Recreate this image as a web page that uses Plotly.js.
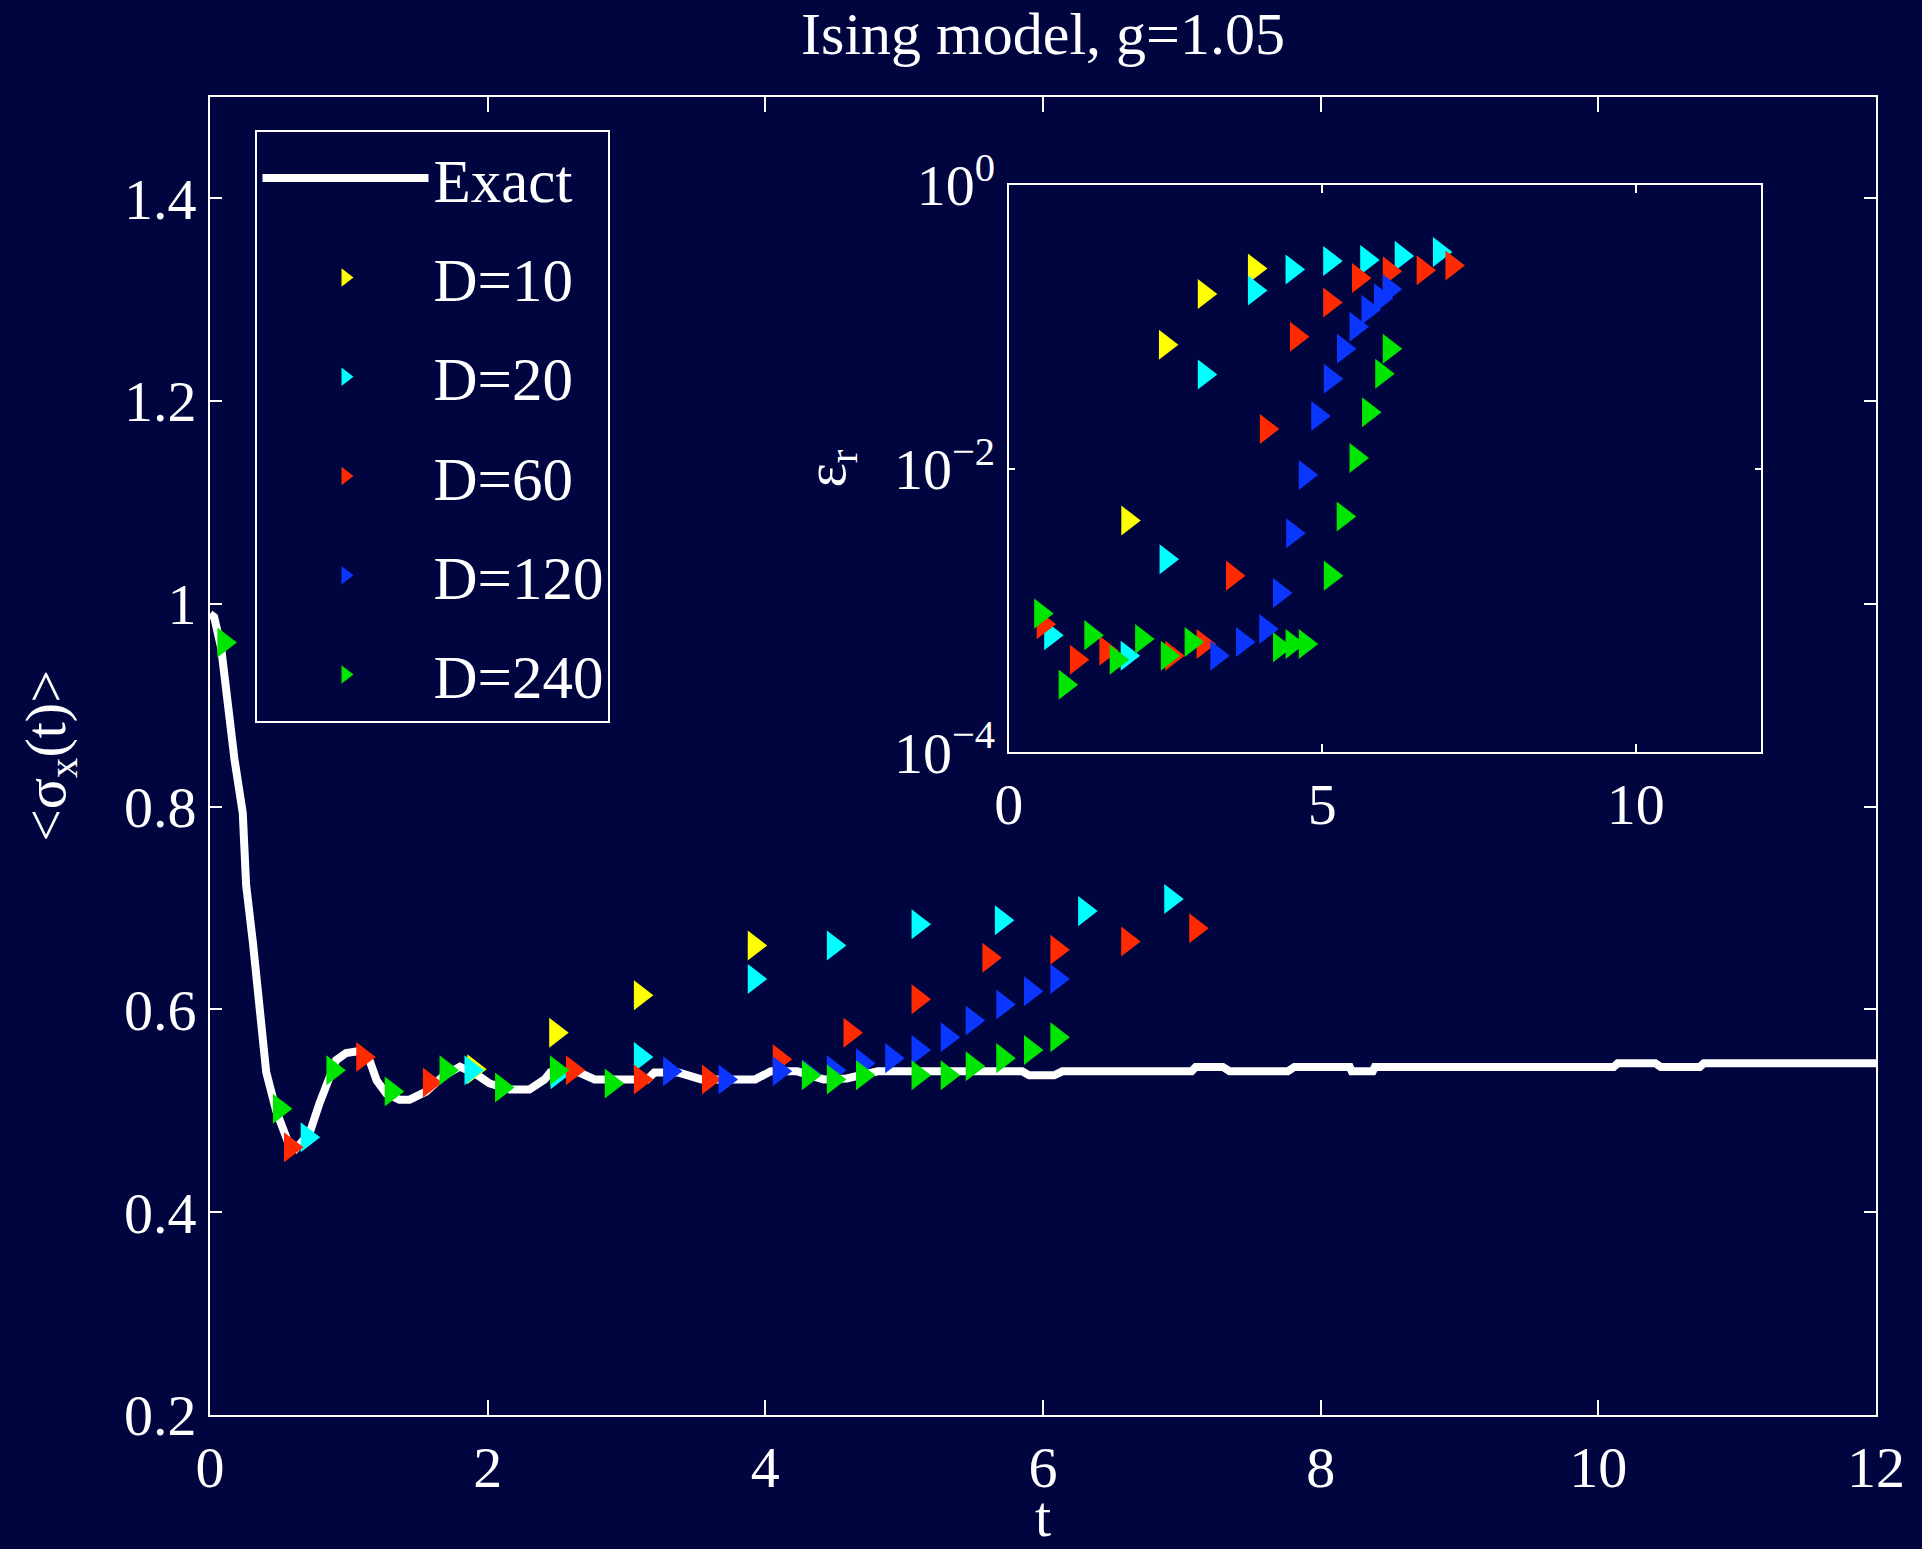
<!DOCTYPE html>
<html>
<head>
<meta charset="utf-8">
<script src="https://cdn.plot.ly/plotly-3.0.1.min.js"></script>
<style>html,body{margin:0;padding:0;background:#00043f;}</style>
</head>
<body>
<div id="chart" style="width:1922px;height:1549px;"></div>
<script>
// ---- Exact solution <sigma_x(t)> ----
const exactT = [0, 0.03, 0.08, 0.128, 0.176, 0.236, 0.26, 0.309, 0.369, 0.405, 0.477, 0.56, 0.62, 0.717, 0.79, 0.86, 0.909, 0.98, 1.077, 1.149, 1.2, 1.27, 1.365, 1.437, 1.557, 1.677, 1.80, 1.918, 2.014, 2.16, 2.30, 2.41, 2.45, 2.66, 2.77, 3.15, 3.20, 3.376, 3.54, 3.927, 4.04, 4.23, 4.42, 4.586, 4.81, 5.85, 5.90, 6.08, 6.14, 7.07, 7.10, 7.295, 7.345, 7.763, 7.811, 8.21, 8.224, 8.375, 8.39, 10.11, 10.14, 10.41, 10.45, 10.73, 10.76, 12];
const exactY = [0.99, 0.987, 0.957, 0.893, 0.847, 0.794, 0.723, 0.666, 0.591, 0.538, 0.50, 0.47, 0.463, 0.478, 0.508, 0.534, 0.55, 0.557, 0.559, 0.55, 0.53, 0.517, 0.511, 0.511, 0.519, 0.534, 0.5436, 0.536, 0.527, 0.521, 0.521, 0.531, 0.5377, 0.5377, 0.531, 0.531, 0.5377, 0.5377, 0.531, 0.531, 0.539, 0.539, 0.531, 0.532, 0.539, 0.539, 0.535, 0.535, 0.539, 0.539, 0.5433, 0.5433, 0.539, 0.539, 0.5433, 0.5433, 0.539, 0.539, 0.5433, 0.5433, 0.547, 0.547, 0.5433, 0.5433, 0.547, 0.547];

// ---- iTEBD results, main panel ----
const d10T  = [1.9, 2.49, 3.10, 3.92];
const d10Y  = [0.541, 0.577, 0.614, 0.663];
const d20T  = [0.70, 1.88, 2.50, 3.10, 3.92, 4.49, 5.10, 5.70, 6.30, 6.92];
const d20Y  = [0.474, 0.540, 0.536, 0.553, 0.630, 0.663, 0.684, 0.688, 0.697, 0.709];
const d60T  = [0.58, 1.10, 1.58, 2.61, 3.10, 3.59, 4.10, 4.61, 5.10, 5.61, 6.10, 6.61, 7.10];
const d60Y  = [0.464, 0.553, 0.528, 0.540, 0.531, 0.531, 0.551, 0.577, 0.610, 0.651, 0.659, 0.667, 0.680];
const d120T = [3.31, 3.71, 4.10, 4.31, 4.49, 4.70, 4.91, 5.10, 5.31, 5.49, 5.71, 5.91, 6.10];
const d120Y = [0.539, 0.531, 0.539, 0.536, 0.540, 0.547, 0.552, 0.560, 0.5725, 0.589, 0.605, 0.618, 0.630];
const d240T = [0.10, 0.50, 0.885, 1.305, 1.70, 2.10, 2.495, 2.89, 4.31, 4.49, 4.70, 5.10, 5.31, 5.49, 5.71, 5.91, 6.10];
const d240Y = [0.962, 0.502, 0.540, 0.519, 0.540, 0.523, 0.540, 0.527, 0.535, 0.531, 0.535, 0.535, 0.535, 0.544, 0.552, 0.560, 0.5725];

// ---- relative error eps_r, inset ----
const e10T  = [1.9, 2.5, 3.12, 3.92];
const e10   = [4.3e-3, 0.0747, 0.17, 0.257];
const e20T  = [0.67, 1.89, 2.51, 3.12, 3.92, 4.52, 5.12, 5.71, 6.26, 6.87];
const e20   = [6.7e-4, 4.8e-4, 2.3e-3, 0.046, 0.18, 0.253, 0.291, 0.296, 0.316, 0.336];
const e60T  = [0.55, 1.08, 1.55, 2.6, 3.1, 3.57, 4.11, 4.59, 5.12, 5.58, 6.07, 6.61, 7.07];
const e60   = [8e-4, 4.5e-4, 5.2e-4, 4.8e-4, 5.8e-4, 1.76e-3, 0.019, 0.085, 0.148, 0.221, 0.246, 0.25, 0.27];
const e120T = [3.32, 3.73, 4.10, 4.32, 4.53, 4.73, 4.93, 5.13, 5.34, 5.54, 5.73, 5.93, 6.07];
const e120  = [4.8e-4, 6e-4, 7.4e-4, 1.33e-3, 3.5e-3, 9.0e-3, 0.0235, 0.043, 0.070, 0.10, 0.132, 0.159, 0.184];
const e240T = [0.51, 0.9, 1.31, 1.715, 2.12, 2.53, 2.91, 4.32, 4.52, 4.73, 5.13, 5.335, 5.54, 5.74, 5.95, 6.07];
const e240  = [9.5e-4, 3.0e-4, 6.7e-4, 4.5e-4, 6.3e-4, 4.8e-4, 6e-4, 5.5e-4, 5.8e-4, 5.8e-4, 1.76e-3, 4.6e-3, 0.0119, 0.025, 0.0466, 0.070];

// ---- labels / ticks ----
const seriesNames = ['D=10', 'D=20', 'D=60', 'D=120', 'D=240'];
const xTicks = [0, 2, 4, 6, 8, 10, 12];
const yTicks = [0.2, 0.4, 0.6, 0.8, 1.0, 1.2, 1.4];
const yTickText = ['0.2', '0.4', '0.6', '0.8', '1', '1.2', '1.4'];
const insetXTicks = [0, 5, 10];
const insetYTicks = [1e-4, 1e-2, 1];
const insetYTickText = ['10<sup>\u22124</sup>', '10<sup>\u22122</sup>', '10<sup>0</sup>'];

const colors = ['#ffff00', '#00ffff', '#ff2a00', '#0a36ff', '#00e600'];
const BG = '#00043f';
const FONT = '"Liberation Serif", "Times New Roman", serif';

const mainT = [d10T, d20T, d60T, d120T, d240T];
const mainY = [d10Y, d20Y, d60Y, d120Y, d240Y];
const errT = [e10T, e20T, e60T, e120T, e240T];
const errV = [e10, e20, e60, e120, e240];

const traces = [{
  x: exactT, y: exactY, type: 'scatter', mode: 'lines', name: 'Exact',
  line: {color: 'white', width: 8}, xaxis: 'x', yaxis: 'y', legendgroup: 'g0'
}];
for (let i = 0; i < 5; i++) {
  traces.push({
    x: mainT[i], y: mainY[i], type: 'scatter', mode: 'markers', name: seriesNames[i],
    marker: {symbol: 'triangle-right', size: 26, color: colors[i], line: {width: 0}},
    xaxis: 'x', yaxis: 'y', legendgroup: 'g' + (i + 1), cliponaxis: false
  });
}
for (let i = 0; i < 5; i++) {
  traces.push({
    x: errT[i], y: errV[i], type: 'scatter', mode: 'markers', name: seriesNames[i],
    marker: {symbol: 'triangle-right', size: 26, color: colors[i], line: {width: 0}},
    xaxis: 'x2', yaxis: 'y2', showlegend: false, legendgroup: 'g' + (i + 1)
  });
}

const tickFont = {family: FONT, size: 58, color: 'white'};
const axBase = {
  ticks: 'inside', tickcolor: 'white', tickwidth: 2, showline: true, linecolor: 'white',
  linewidth: 2, mirror: 'allticks', showgrid: false, zeroline: false, tickfont: tickFont
};

const layout = {
  width: 1922, height: 1549, autosize: false,
  paper_bgcolor: BG, plot_bgcolor: BG,
  margin: {l: 210, r: 46, t: 97, b: 134, pad: 0},
  title: {text: 'Ising model, g=1.05', font: {family: FONT, size: 60, color: 'white'},
          x: 0.5, xref: 'paper', xanchor: 'center', y: 0.9786, yref: 'container', yanchor: 'middle'},
  showlegend: true,
  legend: {x: 0.0273, y: 0.975, xanchor: 'left', yanchor: 'top', bgcolor: BG,
           bordercolor: 'white', borderwidth: 2, font: {family: FONT, size: 61, color: 'white'},
           itemwidth: 166, traceorder: 'grouped', tracegroupgap: 17},
  xaxis: Object.assign({}, axBase, {domain: [0, 1], range: [0, 12], tickvals: xTicks, ticklen: 15,
          anchor: 'y', title: {text: 't', font: {family: FONT, size: 58, color: 'white'}, standoff: 22}}),
  yaxis: Object.assign({}, axBase, {domain: [0, 1], range: [0.2, 1.5], tickvals: yTicks, ticktext: yTickText,
          ticklen: 12, anchor: 'x',
          title: {text: '&lt;\u03c3<sub>x</sub>(t)&gt;', font: {family: FONT, size: 58, color: 'white'}, standoff: 40}}),
  xaxis2: Object.assign({}, axBase, {domain: [0.4794, 0.931], range: [0, 12], tickvals: insetXTicks,
          ticklen: 8, anchor: 'y2'}),
  yaxis2: Object.assign({}, axBase, {domain: [0.5028, 0.9333], type: 'log', range: [-4, 0],
          tickvals: insetYTicks, ticktext: insetYTickText, ticklen: 6, anchor: 'x2',
          title: {text: '\u03b5<sub>r</sub>', font: {family: FONT, size: 58, color: 'white'}, standoff: 30}})
};

Plotly.newPlot('chart', traces, layout, {displayModeBar: false, staticPlot: true});
</script>
</body>
</html>
